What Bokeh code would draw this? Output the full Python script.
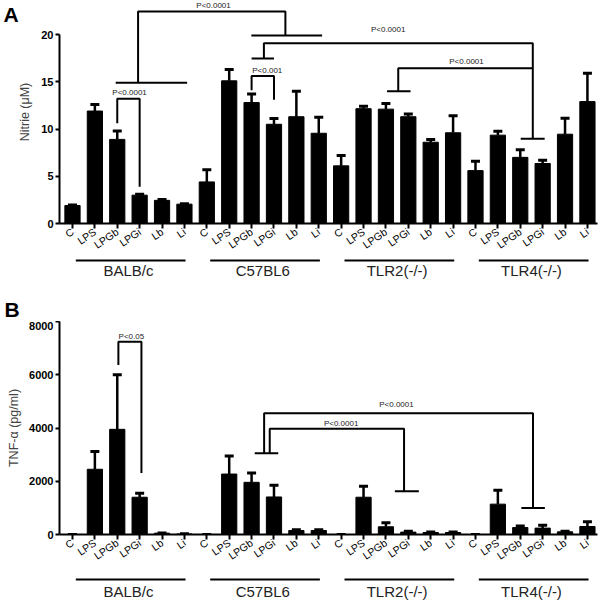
import math
from bokeh.plotting import figure
from bokeh.layouts import column
from bokeh.models import Range1d, FixedTicker, Label, ColumnDataSource
from bokeh.embed import file_html
from bokeh.resources import INLINE
from bokeh.core.properties import value

groups = ["BALB/c", "C57BL6", "TLR2(-/-)", "TLR4(-/-)"]
treatments = ["C", "LPS", "LPGb", "LPGi", "Lb", "Li"]

nitrite_mean = [1.9, 11.9, 8.9, 3.0, 2.45, 2.05,
                4.4, 15.1, 12.8, 10.5, 11.3, 9.55,
                6.1, 12.15, 12.1, 11.3, 8.6, 9.6,
                5.6, 9.35, 7.0, 6.35, 9.45, 12.9]
nitrite_err = [0.05, 0.7, 0.9, 0.1, 0.1, 0.05,
               1.3, 1.2, 0.9, 0.6, 2.7, 1.7,
               1.1, 0.25, 0.6, 0.3, 0.3, 1.8,
               1.0, 0.4, 0.8, 0.35, 1.7, 3.0]
tnf_mean = [0, 2450, 3950, 1400, 50, 20,
            0, 2270, 1960, 1410, 150, 150,
            0, 1400, 290, 90, 75, 75,
            0, 1140, 260, 240, 100, 300]
tnf_err = [0, 670, 2050, 150, 10, 5,
           0, 680, 350, 440, 30, 30,
           0, 410, 150, 30, 20, 15,
           0, 520, 60, 110, 20, 175]

nitrite_ticks = [0, 5, 10, 15, 20]
tnf_ticks = [0, 2000, 4000, 6000, 8000]

# significance brackets (x in bar index units, y in data units)
nitrite_brackets_x = [[2, 2, 3, 3], [1.93, 5.12], [2.93, 2.93, 9.51, 9.51], [7.99, 11.15],
                      [8, 8, 9, 9], [8, 9], [8.55, 8.55, 20.56, 20.56], [20.02, 21.09],
                      [14.55, 14.55, 20.56], [14.05, 15.1]]
nitrite_brackets_y = [[10.6, 13.2, 13.2, 3.9], [14.9, 14.9], [14.9, 22.43, 22.43, 19.9], [19.9, 19.9],
                      [14.1, 15.6, 15.6, 13.1], [17.45, 17.45], [17.45, 19.08, 19.08, 8.98], [8.98, 8.98],
                      [14.0, 16.44, 16.44], [14.0, 14.0]]
nitrite_ptext = ["P<0.0001", "P<0.0001", "P<0.001", "P<0.0001", "P<0.0001"]
nitrite_ptext_x = [2.55, 6.3, 8.7, 14.1, 17.6]
nitrite_ptext_y = [13.85, 23.1, 16.2, 20.5, 17.1]

tnf_brackets_x = [[2.05, 2.05, 3.08, 3.08], [8.14, 9.19], [8.56, 8.56, 20.57, 20.57], [20.05, 21.1],
                  [8.81, 8.81, 14.81, 14.81], [14.4, 15.47]]
tnf_brackets_y = [[6366, 7239, 7239, 2307], [3056, 3056], [3056, 4554, 4554, 996], [996, 996],
                  [3056, 3970, 3970, 1621], [1621, 1621]]
tnf_ptext = ["P<0.05", "P<0.0001", "P<0.0001"]
tnf_ptext_x = [2.63, 14.47, 12.0]
tnf_ptext_y = [7426, 4868, 4157]

FONT = "Liberation Sans"
n = len(groups) * len(treatments)
xs = list(range(n))
labels = {i: treatments[i % len(treatments)] for i in xs}

X0, X1 = -0.58, 23.45
FW, LB, RB = 538, 58, 4
x_range = Range1d(X0, X1)


def letter_label(text, x, y, baseline):
    return Label(x=x, y=y, x_units="screen", y_units="screen", text=text,
                 text_font=FONT, text_font_style="bold", text_font_size="21px",
                 text_baseline=baseline, text_color="black")


def bar_panel(means, errs, ymax, yticks, ylabel, label_standoff, bx, by, ptext, px, py, fh,
              letter=None):
    p = figure(frame_width=FW, frame_height=fh, x_range=x_range,
               y_range=Range1d(0, ymax), output_backend="svg", toolbar_location=None,
               min_border_left=LB, min_border_right=RB, min_border_top=0,
               min_border_bottom=0)
    p.outline_line_color = None
    p.xgrid.visible = False
    p.ygrid.visible = False
    src = ColumnDataSource(dict(x=xs, top=means, up=[m + e for m, e in zip(means, errs)]))
    p.segment(x0="x", y0="top", x1="x", y1="up", source=src, line_color="black", line_width=2.5)
    p.scatter(x="x", y="up", source=src, marker="dash", size=9, line_width=3, line_color="black")
    p.vbar(x="x", top="top", bottom=0, width=0.68, source=src, fill_color="black",
           line_color="black")
    p.multi_line(xs=bx, ys=by, line_color="black", line_width=2)
    p.text(x=px, y=py, text=ptext, text_font=value(FONT), text_font_size="8px",
           text_align="center", text_baseline="middle", text_color="#222222")

    ya = p.yaxis[0]
    ya.bounds = (yticks[0], yticks[-1])
    ya.ticker = FixedTicker(ticks=yticks)
    ya.axis_line_width = 2
    ya.major_tick_line_width = 2
    ya.major_tick_out = 4
    ya.major_tick_in = 0
    ya.minor_tick_out = 0
    ya.minor_tick_in = 0
    ya.major_label_standoff = 2
    ya.major_label_text_font = FONT
    ya.major_label_text_font_style = "bold"
    ya.major_label_text_font_size = "11px"
    ya.major_label_text_color = "black"
    ya.axis_label = ylabel
    ya.axis_label_text_font = FONT
    ya.axis_label_text_font_style = "normal"
    ya.axis_label_text_font_size = "12.5px"
    ya.axis_label_standoff = label_standoff

    xa = p.xaxis[0]
    xa.ticker = FixedTicker(ticks=xs)
    xa.major_label_overrides = labels
    xa.major_label_orientation = 0.6
    xa.axis_line_width = 2
    xa.major_tick_line_width = 2
    xa.major_tick_out = 5
    xa.major_tick_in = 0
    xa.minor_tick_out = 0
    xa.minor_tick_in = 0
    xa.major_label_standoff = 2
    xa.major_label_text_font = FONT
    xa.major_label_text_font_size = "10.5px"
    xa.major_label_text_color = "black"

    if letter:
        p.add_layout(letter_label(letter, 3, fh - 2, "top"), "left")
    return p


def group_panel(h, line_y, text_y, letter=None):
    p = figure(frame_width=FW, frame_height=h, x_range=x_range,
               y_range=Range1d(h, 0), output_backend="svg", toolbar_location=None,
               x_axis_location=None, y_axis_location=None,
               min_border_left=LB, min_border_right=RB, min_border_top=0, min_border_bottom=0)
    p.outline_line_color = None
    p.grid.visible = False
    k = len(treatments)
    starts = [g * k + 0.15 for g in range(len(groups))]
    ends = [g * k + k - 1 + 0.05 for g in range(len(groups))]
    centers = [g * k + (k - 1) / 2 for g in range(len(groups))]
    p.segment(x0=starts, y0=[line_y] * len(groups), x1=ends, y1=[line_y] * len(groups),
              line_color="black", line_width=2)
    p.text(x=centers, y=[text_y] * len(groups), text=groups, text_font=value(FONT),
           text_font_size="15px", text_align="center", text_baseline="middle",
           text_color="#222222")
    if letter:
        p.add_layout(letter_label(letter, -40, 1, "bottom"), "left")
    return p


pA = bar_panel(nitrite_mean, nitrite_err, 223 / 9.45, nitrite_ticks, "Nitrie (μM)", 6,
               nitrite_brackets_x, nitrite_brackets_y, nitrite_ptext, nitrite_ptext_x,
               nitrite_ptext_y, 223, letter="A")
gA = group_panel(63, 2, 12, letter="B")
pB = bar_panel(tnf_mean, tnf_err, 8000, tnf_ticks, "TNF-α (pg/ml)", 5, tnf_brackets_x,
               tnf_brackets_y, tnf_ptext, tnf_ptext_x, tnf_ptext_y, 213)
gB = group_panel(31, 10, 22)

layout = column(pA, gA, pB, gB, spacing=0)
open("out.html", "w").write(file_html(layout, INLINE))
